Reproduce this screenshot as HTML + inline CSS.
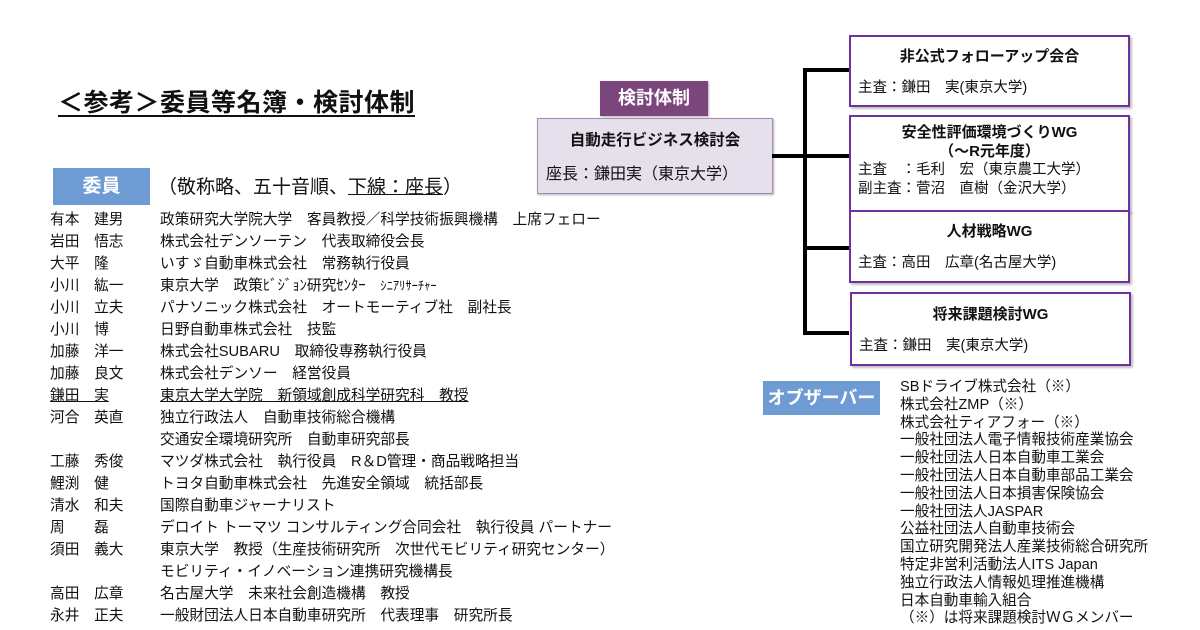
<!DOCTYPE html>
<html><head><meta charset="utf-8"><style>
*{margin:0;padding:0;box-sizing:border-box}
body{width:1200px;height:630px;background:#fff;position:relative;overflow:hidden;font-family:"Liberation Sans","Noto Sans CJK JP",sans-serif;color:#111}
.a{position:absolute;white-space:nowrap}
.t{font-size:14.7px;line-height:22px}
.blue{background:#6f9bd5;color:#fff;font-weight:bold;text-align:center}
.box{position:absolute;border:2.5px solid #7030a0;background:#fff;box-shadow:2px 2px 2px rgba(0,0,0,.25)}
.ln{position:absolute;background:#000}
.h{font-weight:bold;font-size:15px;text-align:center}
</style></head><body>
<div class="a" style="left:58px;top:83px;font-size:25px;font-weight:bold;text-decoration:underline;text-underline-offset:4px;letter-spacing:0.5px">＜参考＞委員等名簿・検討体制</div>
<div class="a blue" style="left:53px;top:168px;width:97px;height:37px;line-height:37px;font-size:19px">委員</div>
<div class="a" style="left:158px;top:172px;font-size:19px">（敬称略、五十音順、<span style="text-decoration:underline">下線：座長</span>）</div>
<div class="a t" style="left:50px;top:209px">有本　建男<br>岩田　悟志<br>大平　隆<br>小川　紘一<br>小川　立夫<br>小川　博<br>加藤　洋一<br>加藤　良文<br><u>鎌田　実</u><br>河合　英直<br><br>工藤　秀俊<br>鯉渕　健<br>清水　和夫<br>周　　磊<br>須田　義大<br><br>高田　広章<br>永井　正夫</div>
<div class="a t" style="left:160px;top:209px">政策研究大学院大学　客員教授／科学技術振興機構　上席フェロー<br>株式会社デンソーテン　代表取締役会長<br>いすゞ自動車株式会社　常務執行役員<br>東京大学　政策ﾋﾞｼﾞｮﾝ研究ｾﾝﾀｰ　<span style="font-size:12.5px">ｼﾆｱﾘｻｰﾁｬｰ</span><br>パナソニック株式会社　オートモーティブ社　副社長<br>日野自動車株式会社　技監<br>株式会社SUBARU　取締役専務執行役員<br>株式会社デンソー　経営役員<br><u>東京大学大学院　新領域創成科学研究科　教授</u><br>独立行政法人　自動車技術総合機構<br>交通安全環境研究所　自動車研究部長<br>マツダ株式会社　執行役員　R＆D管理・商品戦略担当<br>トヨタ自動車株式会社　先進安全領域　統括部長<br>国際自動車ジャーナリスト<br>デロイト トーマツ コンサルティング合同会社　執行役員 パートナー<br>東京大学　教授（生産技術研究所　次世代モビリティ研究センター）<br>モビリティ・イノベーション連携研究機構長<br>名古屋大学　未来社会創造機構　教授<br>一般財団法人日本自動車研究所　代表理事　研究所長</div>
<div class="a" style="left:600px;top:81px;width:108px;height:35px;background:#7b467c;color:#fff;font-weight:bold;font-size:18px;line-height:35px;text-align:center;box-shadow:1px 1px 2px rgba(0,0,0,.3)">検討体制</div>
<div class="a" style="left:537px;top:118px;width:236px;height:76px;background:#e6e0ec;border:1.5px solid #a58ab0;box-shadow:1px 1px 2px rgba(0,0,0,.3)">
<div class="h" style="font-size:15.5px;margin-top:9px">自動走行ビジネス検討会</div>
<div style="font-size:16px;margin:10px 0 0 8px">座長：鎌田実（東京大学）</div></div>
<div class="ln" style="left:772px;top:154px;width:77px;height:4px"></div>
<div class="ln" style="left:803px;top:68px;width:4px;height:267px"></div>
<div class="ln" style="left:803px;top:68px;width:46px;height:4px"></div>
<div class="ln" style="left:803px;top:246px;width:46px;height:4px"></div>
<div class="ln" style="left:803px;top:331px;width:46px;height:4px"></div>
<div class="box" style="left:849px;top:35px;width:281px;height:72px"><div class="h" style="margin-top:8px">非公式フォローアップ会合</div><div style="font-size:14.5px;margin:10px 0 0 7px">主査：鎌田　実(東京大学)</div></div>
<div class="box" style="left:849px;top:115px;width:281px;height:97px"><div class="h" style="margin-top:6px;line-height:19px">安全性評価環境づくりWG<br>（～R元年度）</div><div style="font-size:14.5px;margin:0 0 0 7px;line-height:19px">主査　：毛利　宏（東京農工大学）<br>副主査：菅沼　直樹（金沢大学）</div></div>
<div class="box" style="left:849px;top:210px;width:281px;height:73px"><div class="h" style="margin-top:8px">人材戦略WG</div><div style="font-size:14.5px;margin:10px 0 0 7px">主査：高田　広章(名古屋大学)</div></div>
<div class="box" style="left:850px;top:292px;width:281px;height:74px"><div class="h" style="margin-top:9px">将来課題検討WG</div><div style="font-size:14.5px;margin:10px 0 0 7px">主査：鎌田　実(東京大学)</div></div>
<div class="a blue" style="left:763px;top:381px;width:117px;height:34px;line-height:34px;font-size:18px">オブザーバー</div>
<div class="a" style="left:900px;top:379px;font-size:14.6px;line-height:17.8px">SBドライブ株式会社（※）<br>株式会社ZMP（※）<br>株式会社ティアフォー（※）<br>一般社団法人電子情報技術産業協会<br>一般社団法人日本自動車工業会<br>一般社団法人日本自動車部品工業会<br>一般社団法人日本損害保険協会<br>一般社団法人JASPAR<br>公益社団法人自動車技術会<br>国立研究開発法人産業技術総合研究所<br>特定非営利活動法人ITS Japan<br>独立行政法人情報処理推進機構<br>日本自動車輸入組合<br>（※）は将来課題検討ＷＧメンバー</div>
</body></html>
